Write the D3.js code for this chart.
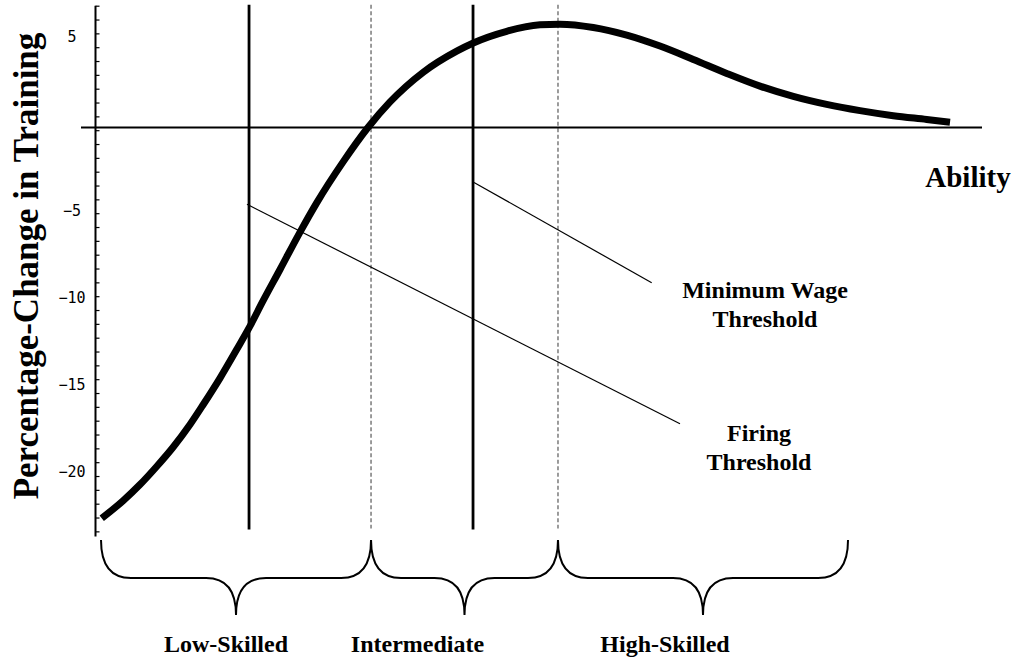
<!DOCTYPE html>
<html>
<head>
<meta charset="utf-8">
<script src="https://cdn.jsdelivr.net/npm/d3@7/dist/d3.min.js"></script>
<style>
  html, body { margin: 0; padding: 0; background: #fff; }
  svg { display: block; }
  .serif { font-family: "Liberation Serif", "Times New Roman", Times, serif; font-weight: bold; fill: #000; }
  .tick-label { font-family: "DejaVu Sans Mono", monospace; font-size: 15px; fill: #000; }
</style>
</head>
<body>
<svg id="chart" width="1018" height="664"></svg>
<script>
// ---------- data ----------
const ability = [2.30, 4.69, 6.55, 8.40, 10.24, 12.10, 13.57, 15.43, 17.28, 18.65, 20.23, 22.09, 24.31, 26.16, 29.11, 31.85,
                 34.30, 37.99, 41.70, 43.54, 47.25, 50.94, 53.16, 56.86, 60.57, 64.26, 67.96, 71.67, 75.36, 79.06,
                 82.76, 86.46, 90.15, 93.86, 96.45];
const trainingChange = [-22.46, -21.44, -20.52, -19.48, -18.36, -17.07, -15.92, -14.40, -12.76, -11.52, -9.94, -8.16, -6.01, -4.33, -1.96, 0.00,
                 1.47, 3.18, 4.39, 4.86, 5.53, 5.90, 5.94, 5.75, 5.31, 4.68, 3.91, 3.11, 2.38, 1.79,
                 1.33, 0.97, 0.68, 0.46, 0.30];

const yTickValues = [5, -5, -10, -15, -20];
const yTickLabels = ["5", "\u22125", "\u221210", "\u221215", "\u221220"];

const thresholdX = [18.65, 32.19, 43.51, 52.94];
const thresholdKind = ["solid", "dashed", "solid", "dashed"];

const groupNames = ["Low-Skilled", "Intermediate", "High-Skilled"];
const groupStart = [2.22, 32.19, 52.94];
const groupEnd = [32.19, 52.94, 85.13];

const annotationNames = [["Firing", "Threshold"], ["Minimum Wage", "Threshold"]];
const annotationFrom = [[18.42, -4.41], [43.62, -3.16]];
const annotationTo = [[66.48, -17.03], [63.34, -8.92]];

// ---------- layout ----------
const svg = d3.select("#chart");
const x = d3.scaleLinear().domain([0, 100]).range([81, 982]);
const y = d3.scaleLinear().domain([-23.5, 7.0]).range([536.4, 5.7]);
const axisX = 95.5;

// vertical threshold lines
const lineTop = 7.05, lineBottom = -23.1;
svg.append("g").selectAll("line").data(thresholdX).join("line")
  .attr("x1", d => x(d)).attr("x2", d => x(d))
  .attr("y1", y(lineTop)).attr("y2", (d, i) => thresholdKind[i] === "solid" ? y(lineBottom) : y(lineBottom) - 1)
  .attr("stroke", (d, i) => thresholdKind[i] === "solid" ? "#000" : "#666")
  .attr("stroke-width", (d, i) => thresholdKind[i] === "solid" ? 2.8 : 1.3)
  .attr("stroke-dasharray", (d, i) => thresholdKind[i] === "solid" ? null : "4,2.5");

// x axis line (at zero)
svg.append("line")
  .attr("x1", x(0)).attr("x2", x(100))
  .attr("y1", y(0)).attr("y2", y(0))
  .attr("stroke", "#000").attr("stroke-width", 2);

// y axis
const minorTicks = d3.range(0, 39).map(k => 7.0 - k * 0.795);
const yAxis = d3.axisRight(y).tickValues(minorTicks).tickSize(4).tickFormat("");
const gy = svg.append("g").attr("transform", `translate(${axisX},0)`).call(yAxis);
gy.select(".domain").attr("stroke-width", 2).attr("d", `M0,${y(7.0)}V${y(-23.5)}`);
gy.selectAll(".tick line").attr("stroke-width", 1.2);

svg.append("g").selectAll("text").data(yTickValues).join("text")
  .attr("class", "tick-label")
  .attr("x", 72).attr("y", d => y(d) - 4)
  .attr("text-anchor", "middle").attr("dominant-baseline", "central")
  .text((d, i) => yTickLabels[i]);

// annotation lines
svg.append("g").selectAll("line").data(annotationFrom).join("line")
  .attr("x1", d => x(d[0])).attr("y1", d => y(d[1]))
  .attr("x2", (d, i) => x(annotationTo[i][0])).attr("y2", (d, i) => y(annotationTo[i][1]))
  .attr("stroke", "#000").attr("stroke-width", 1.2);

// curve
const pts = ability.map((a, i) => [a, trainingChange[i]]);
svg.append("path")
  .attr("d", d3.line().x(d => x(d[0])).y(d => y(d[1])).curve(d3.curveMonotoneX)(pts))
  .attr("fill", "none").attr("stroke", "#000").attr("stroke-width", 7)
  .attr("stroke-linecap", "butt").attr("stroke-linejoin", "round");

// braces
const bTop = 540, bMid = 578, bTip = 615, r = 30;
function bracePath(a, b) {
  const x0 = x(a), x1 = x(b), xm = (x0 + x1) / 2;
  return `M${x0},${bTop} Q${x0},${bMid} ${x0 + r},${bMid} L${xm - r},${bMid} Q${xm},${bMid} ${xm},${bTip}` +
         ` Q${xm},${bMid} ${xm + r},${bMid} L${x1 - r},${bMid} Q${x1},${bMid} ${x1},${bTop}`;
}
svg.append("g").selectAll("path").data(groupNames).join("path")
  .attr("d", (d, i) => bracePath(groupStart[i], groupEnd[i]))
  .attr("fill", "none").attr("stroke", "#000").attr("stroke-width", 2);

const groupLabelShift = [-10, -47, -38];
svg.append("g").selectAll("text").data(groupNames).join("text")
  .attr("class", "serif").style("font-size", "24px")
  .attr("text-anchor", "middle")
  .attr("x", (d, i) => (x(groupStart[i]) + x(groupEnd[i])) / 2 + groupLabelShift[i])
  .attr("y", 652)
  .text(d => d);

// annotation labels
const annLabelPos = [[759, 441], [765, 298]];
annotationNames.forEach((lines, i) => {
  const t = svg.append("text").attr("class", "serif").style("font-size", "24px")
    .attr("text-anchor", "middle");
  lines.forEach((s, j) => {
    t.append("tspan").attr("x", annLabelPos[i][0]).attr("y", annLabelPos[i][1] + j * 29).text(s);
  });
});

// axis titles
svg.append("text").attr("class", "serif").style("font-size", "29px")
  .attr("text-anchor", "middle").attr("x", 968).attr("y", 187).text("Ability");

svg.append("text").attr("class", "serif").style("font-size", "35px")
  .attr("text-anchor", "middle")
  .attr("transform", "translate(38,266) rotate(-90)")
  .text("Percentage-Change in Training");
</script>
</body>
</html>
